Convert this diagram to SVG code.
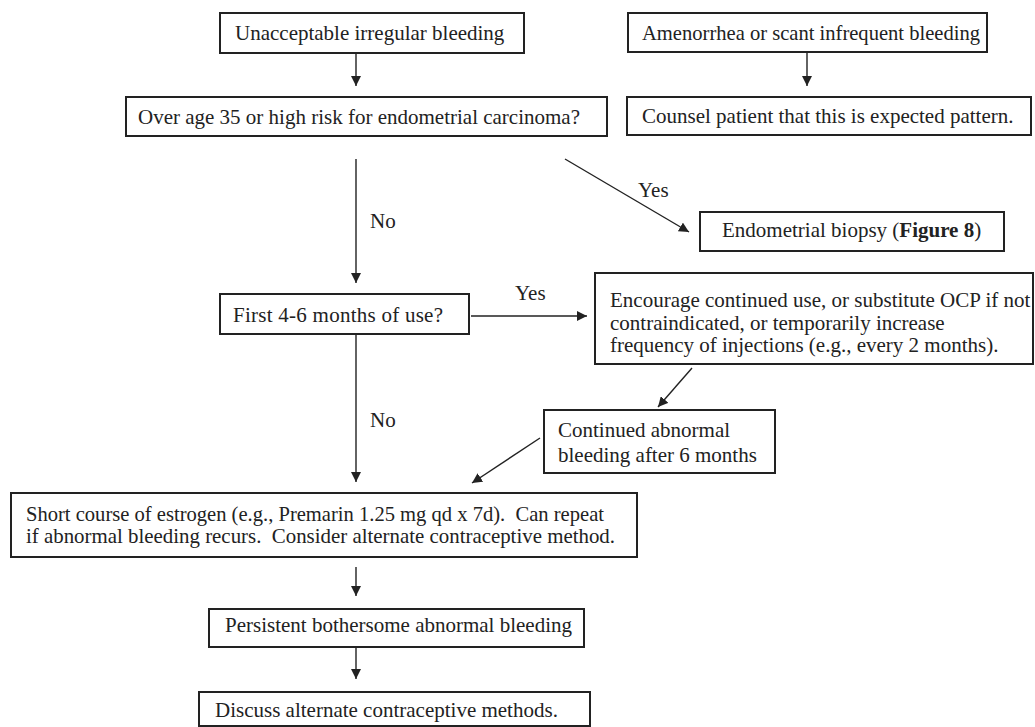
<svg xmlns="http://www.w3.org/2000/svg" width="1035" height="727" viewBox="0 0 1035 727">
<style>
.box{fill:#fff;stroke:#222;stroke-width:2}
.t{font-family:"Liberation Serif","Times New Roman",serif;font-size:21px;fill:#222}
.c{stroke:#222;stroke-width:1.4;fill:none}
</style>
<defs>
<marker id="ah" viewBox="0 0 10 10" refX="10" refY="5" markerWidth="10" markerHeight="10" markerUnits="userSpaceOnUse" orient="auto">
<path d="M0,0 L10,5 L0,10 z" fill="#222"/>
</marker>
</defs>
<rect width="1035" height="727" fill="#fff"/>
<g id="connectors">
<line class="c" x1="356" y1="53" x2="356" y2="86" marker-end="url(#ah)"/>
<line class="c" x1="807" y1="53" x2="807" y2="86" marker-end="url(#ah)"/>
<line class="c" x1="565" y1="159" x2="689" y2="232" marker-end="url(#ah)"/>
<line class="c" x1="356" y1="159" x2="356" y2="283" marker-end="url(#ah)"/>
<line class="c" x1="471" y1="316" x2="587" y2="316" marker-end="url(#ah)"/>
<line class="c" x1="692" y1="368" x2="658" y2="407" marker-end="url(#ah)"/>
<line class="c" x1="356" y1="334" x2="356" y2="482" marker-end="url(#ah)"/>
<line class="c" x1="540" y1="438" x2="472" y2="483" marker-end="url(#ah)"/>
<line class="c" x1="356" y1="567" x2="356" y2="596" marker-end="url(#ah)"/>
<line class="c" x1="356" y1="648" x2="356" y2="679" marker-end="url(#ah)"/>
<text class="t" x="638" y="197">Yes</text>
<text class="t" x="370" y="228">No</text>
<text class="t" x="515" y="300">Yes</text>
<text class="t" x="370" y="427">No</text>
</g>
<g id="n1"><rect class="box" x="220" y="13" width="304" height="40"/><text class="t" x="235" y="40">Unacceptable irregular bleeding</text></g>
<g id="n2"><rect class="box" x="126" y="97" width="481" height="39"/><text class="t" x="138" y="124">Over age 35 or high risk for endometrial carcinoma?</text></g>
<g id="n3"><rect class="box" x="628" y="13" width="359" height="39"/><text class="t" x="642" y="40" textLength="338" lengthAdjust="spacingAndGlyphs">Amenorrhea or scant infrequent bleeding</text></g>
<g id="n4"><rect class="box" x="627" y="97" width="404" height="38"/><text class="t" x="642" y="123">Counsel patient that this is expected pattern.</text></g>
<g id="n5"><rect class="box" x="700" y="212" width="304" height="39"/><text class="t" x="722" y="237">Endometrial biopsy (<tspan font-weight="bold">Figure 8</tspan>)</text></g>
<g id="n6"><rect class="box" x="220" y="294" width="249" height="40"/><text class="t" x="233" y="322" textLength="210">First 4-6 months of use?</text></g>
<g id="n7"><rect class="box" x="595" y="273" width="438" height="91"/><text class="t"><tspan x="610" y="307">Encourage continued use, or substitute OCP if not</tspan><tspan x="610" y="330">contraindicated, or temporarily increase</tspan><tspan x="610" y="352">frequency of injections (e.g., every 2 months).</tspan></text></g>
<g id="n8"><rect class="box" x="544" y="410" width="231" height="63"/><text class="t"><tspan x="558" y="437">Continued abnormal</tspan><tspan x="558" y="462">bleeding after 6 months</tspan></text></g>
<g id="n9"><rect class="box" x="11" y="493" width="626" height="64"/><text class="t" xml:space="preserve" x="26" y="521" textLength="578" lengthAdjust="spacingAndGlyphs">Short course of estrogen (e.g., Premarin 1.25 mg qd x 7d).  Can repeat</text><text class="t" xml:space="preserve" x="26" y="543" textLength="589" lengthAdjust="spacingAndGlyphs">if abnormal bleeding recurs.  Consider alternate contraceptive method.</text></g>
<g id="n10"><rect class="box" x="209" y="609" width="375" height="38"/><text class="t" x="225" y="632">Persistent bothersome abnormal bleeding</text></g>
<g id="n11"><rect class="box" x="199" y="692" width="391" height="34"/><text class="t" x="215" y="717">Discuss alternate contraceptive methods.</text></g>
</svg>
